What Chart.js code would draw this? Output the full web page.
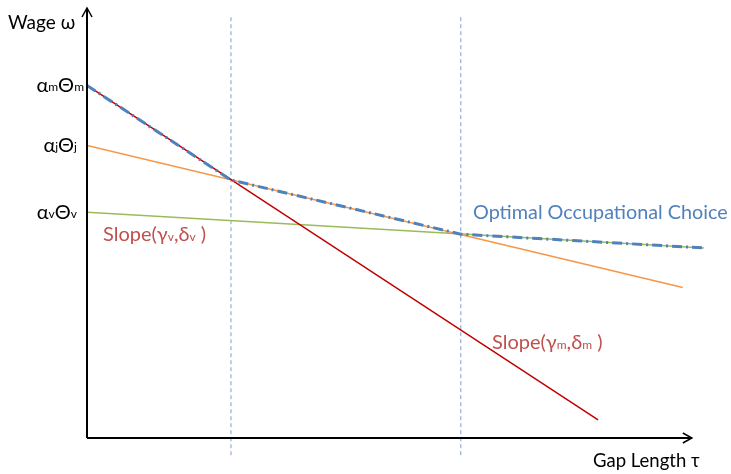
<!DOCTYPE html>
<html>
<head>
<meta charset="utf-8">
<script src="https://cdn.jsdelivr.net/npm/chart.js@4"></script>
<style>
  html, body { margin: 0; padding: 0; background: #fff; }
  #wrap { width: 731px; height: 474px; }
</style>
</head>
<body>
<div id="wrap"><canvas id="wageChart" width="731" height="474"></canvas></div>
<script>
// values (tau = gap length, w = wage, arbitrary units)
const managerLine = [{ x: 0, y: 8.2 }, { x: 8.45, y: 0.42 }];
const jobLine = [{ x: 0, y: 6.8 }, { x: 9.85, y: 3.5 }];
const vocLine = [{ x: 0, y: 5.25 }, { x: 10.2, y: 4.42 }];
const optimalLine = [{ x: 0, y: 8.2 }, { x: 2.38, y: 6.0 }, { x: 6.18, y: 4.74 }, { x: 10.2, y: 4.42 }];
const thresholds = [2.38, 6.18];
const thresholdSpan = [-0.4, 9.85];
const interceptValues = [8.2, 6.8, 5.25];
const interceptLabels = [['α', 'm', 'Θ', 'm'], ['α', 'j', 'Θ', 'j'], ['α', 'v', 'Θ', 'v']];

const FONT = 'Lato, "Open Sans", sans-serif';

// draw text where every second piece is a small subscript
function drawPieces(ctx, pieces, x, y, big, small, color, align) {
    ctx.save();
    ctx.fillStyle = color;
    ctx.textBaseline = 'middle';
    ctx.textAlign = 'left';
    let widths = pieces.map((p, i) => {
        ctx.font = (i % 2 ? small : big) + 'px ' + FONT;
        return ctx.measureText(p).width;
    });
    let total = widths.reduce((a, b) => a + b, 0);
    let cx = align === 'right' ? x - total : x;
    pieces.forEach((p, i) => {
        ctx.font = (i % 2 ? small : big) + 'px ' + FONT;
        ctx.fillText(p, cx, i % 2 ? y + 2 : y);
        cx += widths[i];
    });
    ctx.restore();
}

const axesPlugin = {
    id: 'axesPlugin',
    afterDatasetsDraw(chart) {
        const ctx = chart.ctx;
        const xs = chart.scales.x, ys = chart.scales.y;
        const x0 = xs.getPixelForValue(0), y0 = ys.getPixelForValue(0);
        const xEnd = xs.getPixelForValue(10), yTop = ys.getPixelForValue(10);
        ctx.save();
        ctx.strokeStyle = '#000';
        ctx.lineWidth = 2;
        ctx.beginPath();
        ctx.moveTo(x0, y0);
        ctx.lineTo(x0, yTop);
        ctx.moveTo(x0, y0);
        ctx.lineTo(xEnd, y0);
        ctx.stroke();
        ctx.lineWidth = 1.5;
        ctx.beginPath();
        ctx.moveTo(x0 - 5, yTop + 9);
        ctx.lineTo(x0, yTop);
        ctx.lineTo(x0 + 5, yTop + 9);
        ctx.moveTo(xEnd - 9, y0 - 5);
        ctx.lineTo(xEnd, y0);
        ctx.lineTo(xEnd - 9, y0 + 5);
        ctx.stroke();

        ctx.fillStyle = '#000';
        ctx.textBaseline = 'middle';
        ctx.textAlign = 'left';
        ctx.font = '19px ' + FONT;
        ctx.fillText('Wage ω', 8, 23);
        ctx.font = '18.5px ' + FONT;
        ctx.fillText('Gap Length τ', 593, 461);
        ctx.restore();

        const rightEdges = [84, 77, 77];
        interceptValues.forEach((v, i) => {
            drawPieces(ctx, interceptLabels[i], rightEdges[i], ys.getPixelForValue(v), 20, 12, '#000', 'right');
        });

        ctx.save();
        ctx.fillStyle = '#4f81bd';
        ctx.font = '19.8px ' + FONT;
        ctx.textBaseline = 'middle';
        ctx.fillText('Optimal Occupational Choice', 473, 213);
        ctx.restore();

        drawPieces(ctx, ['Slope(γ', 'v', ',δ', 'v', ' )'], 103, 235, 20, 12, '#c0504d', 'left');
        drawPieces(ctx, ['Slope(γ', 'm', ',δ', 'm', ' )'], 492, 343, 20, 12, '#c0504d', 'left');
    }
};

const lineSet = (data, color, width, dash) => ({
    data: data,
    borderColor: color,
    borderWidth: width,
    borderDash: dash || [],
    pointRadius: 0,
    fill: false,
    tension: 0
});

new Chart(document.getElementById('wageChart'), {
    type: 'line',
    data: {
        datasets: [
            lineSet(optimalLine, '#4f81bd', 3, [10, 4, 2, 4]),
            lineSet(managerLine, '#c00000', 1.5),
            lineSet(jobLine, '#f79646', 1.5),
            lineSet(vocLine, '#9bbb59', 1.5),
            lineSet(thresholdSpan.map(v => ({ x: thresholds[0], y: v })), '#7c9fcf', 1, [4, 3]),
            lineSet(thresholdSpan.map(v => ({ x: thresholds[1], y: v })), '#7c9fcf', 1, [4, 3])
        ]
    },
    options: {
        responsive: false,
        animation: false,
        layout: { padding: { left: 87, right: 21, top: 8, bottom: 14.5 } },
        scales: {
            x: { type: 'linear', min: 0, max: 10.3, display: false },
            y: { type: 'linear', min: -0.5, max: 10, display: false }
        },
        plugins: {
            legend: { display: false },
            tooltip: { enabled: false }
        }
    },
    plugins: [axesPlugin]
});
</script>
</body>
</html>
